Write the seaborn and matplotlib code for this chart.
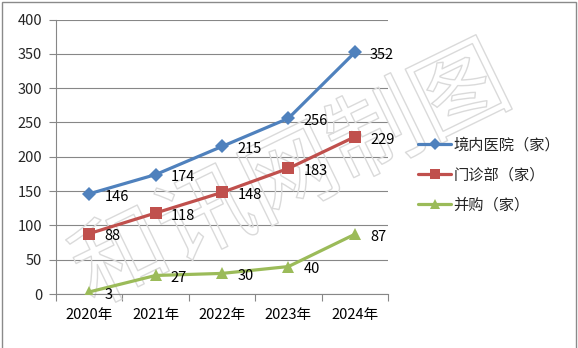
import matplotlib
matplotlib.use("Agg")
import matplotlib.pyplot as plt
import matplotlib.patheffects as pe
from matplotlib.patches import Rectangle
from matplotlib.lines import Line2D
import seaborn as sns
import pandas as pd

years = ["2020年", "2021年", "2022年", "2023年", "2024年"]
hospitals = [146, 174, 215, 256, 352]
clinics = [88, 118, 148, 183, 229]
mergers = [3, 27, 30, 40, 87]
series_names = ["境内医院（家）", "门诊部（家）", "并购（家）"]
colors = ["#4F81BD", "#C0504D", "#9BBB59"]
markers = ["D", "s", "^"]
msizes = [7, 8.5, 9]
y_ticks = [0, 50, 100, 150, 200, 250, 300, 350, 400]

sns.set_theme(style="white")
plt.rcParams["font.family"] = ["Noto Sans CJK SC", "DejaVu Sans"]

rows = []
for name, vals in zip(series_names, [hospitals, clinics, mergers]):
    for i, (y, v) in enumerate(zip(years, vals)):
        rows.append({"idx": i, "year": y, "value": v, "series": name})
df = pd.DataFrame(rows)

fig = plt.figure(figsize=(5.78, 3.48), dpi=100)
ax = fig.add_axes([56 / 578, 1 - 294 / 348, 332 / 578, 274.5 / 348])

# watermark (behind the lines)
ax.text(292 / 578, 1 - 178 / 348, "和讯网制图", fontsize=68, rotation=26,
        ha="center", va="center", color="none", zorder=1, clip_on=False,
        transform=fig.transFigure,
        path_effects=[pe.Stroke(linewidth=1.0, foreground="#dadada")])

for name, vals, c, m, ms in zip(series_names, [hospitals, clinics, mergers], colors, markers, msizes):
    sub = df[df["series"] == name]
    sns.lineplot(data=sub, x="idx", y="value", ax=ax, color=c, linewidth=2.3,
                 marker=m, markersize=ms, markeredgewidth=0, legend=False, zorder=3)
    for i, v in enumerate(vals):
        ax.annotate(str(v), (i, v), xytext=(11, -2), textcoords="offset points",
                    ha="left", va="center", fontsize=10.5, color="black", zorder=4)

ax.set_xlim(-0.5, 4.5)
ax.set_ylim(0, 400)
ax.set_yticks(y_ticks)
ax.set_xticks(range(len(years)))
ax.set_xticklabels(years)
ax.set_xticks([i - 0.5 for i in range(len(years) + 1)], minor=True)
ax.tick_params(axis="x", which="major", length=0, pad=10, labelsize=10.5, colors="black")
ax.tick_params(axis="x", which="minor", length=5, width=0.8, color="#878787", bottom=True)
ax.tick_params(axis="y", length=5, width=0.8, color="#878787", pad=5, labelsize=10.5, left=True)
ax.set_xlabel("")
ax.set_ylabel("")
ax.grid(axis="y", color="#878787", linewidth=0.8)
ax.grid(axis="x", visible=False)
ax.set_axisbelow(True)
for s in ["top", "right"]:
    ax.spines[s].set_visible(False)
for s in ["left", "bottom"]:
    ax.spines[s].set_color("#878787")
    ax.spines[s].set_linewidth(0.8)
ax.patch.set_alpha(0)

handles = [Line2D([0], [0], color=c, linewidth=2.3, marker=m, markersize=ms * 0.85, markeredgewidth=0)
           for c, m, ms in zip(colors, markers, msizes)]
fig.legend(handles, series_names, loc="center left", bbox_to_anchor=(404 / 578, 1 - 175 / 348),
           frameon=False, fontsize=11, handlelength=2.2, handletextpad=0.15, labelspacing=0.85)

fig.patches.append(Rectangle((1.5 / 578, -0.05), 574.5 / 578, 1.05 - 2 / 348,
                             transform=fig.transFigure, fill=False, edgecolor="#8a8a8a",
                             linewidth=1.0, zorder=10))

fig.savefig("out.png", dpi=100)
